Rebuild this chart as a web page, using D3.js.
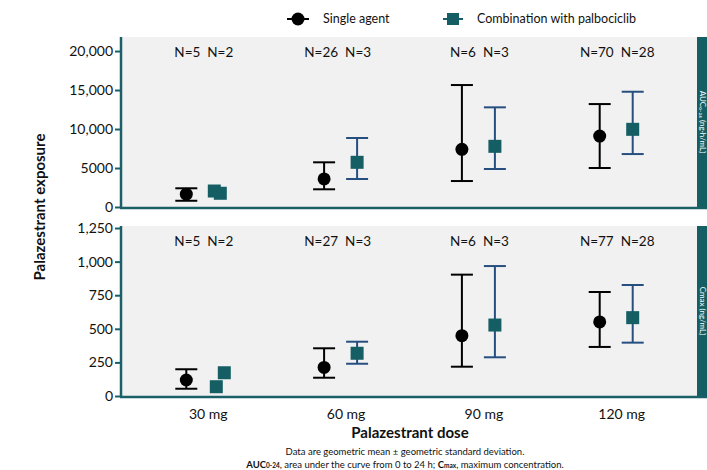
<!DOCTYPE html>
<html><head><meta charset="utf-8">
<script src="https://cdn.jsdelivr.net/npm/d3@7"></script>
<style>body{margin:0;background:#fff;}svg{display:block;font-family:Lato,"Open Sans",sans-serif;}</style>
</head><body><svg id="c" width="707" height="470"></svg>
<script>
const doses = ["30 mg","60 mg","90 mg","120 mg"];
// AUC0-24 panel (top)
const aucSingleMean = [1650, 3600, 7400, 9100];
const aucSingleLow  = [800, 2270, 3330, 5000];
const aucSingleHigh = [2400, 5730, 15640, 13200];
const aucComboMean  = [null, 5730, 7780, 9960];
const aucComboLow   = [null, 3590, 4870, 6790];
const aucComboHigh  = [null, 8850, 12780, 14780];
const aucComboIndiv30 = [2050, 1760];
const aucNSingle = ["N=5","N=26","N=6","N=70"];
const aucNCombo  = ["N=2","N=3","N=3","N=28"];
const aucTicks = [0, 5000, 10000, 15000, 20000];
// Cmax panel (bottom)
const cmaxSingleMean = [119, 213, 449, 551];
const cmaxSingleLow  = [54, 136, 218, 365];
const cmaxSingleHigh = [199, 355, 903, 774];
const cmaxComboMean  = [null, 318, 528, 583];
const cmaxComboLow   = [null, 240, 288, 397];
const cmaxComboHigh  = [null, 404, 967, 826];
const cmaxComboIndiv30 = [69, 173];
const cmaxNSingle = ["N=5","N=27","N=6","N=77"];
const cmaxNCombo  = ["N=2","N=3","N=3","N=28"];
const cmaxTicks = [0, 250, 500, 750, 1000, 1250];

const svg = d3.select("#c");
const teal = "#155e63", blue = "#264f80", axisCol = "#1b6068";
const L = 121, R = 697;
const x = d3.scalePoint().domain(doses).range([L, R]).padding(0.59);
const offS = -16, offC = 17;

function panel(top, bottom, yMax, ticks, fmt, sMean, sLow, sHigh, cMean, cLow, cHigh, indiv, indivOff, nS, nC, stripLabel) {
  const y = d3.scaleLinear().domain([0, yMax]).range([bottom, top]);
  const g = svg.append("g");
  g.append("rect").attr("x", L).attr("y", top).attr("width", R - L).attr("height", bottom - top).attr("fill", "#f1f1f1");
  // strip
  g.append("rect").attr("x", R).attr("y", top).attr("width", 12).attr("height", bottom - top).attr("fill", teal);
  g.append("text").attr("transform", `translate(${R + 2.5},${(top + bottom) / 2}) rotate(90)`)
    .attr("text-anchor", "middle").attr("fill", "#fff").attr("font-size", 8).text(stripLabel);
  // axes
  const ya = g.append("g").attr("transform", `translate(${L},0)`)
    .call(d3.axisLeft(y).tickValues(ticks).tickFormat(fmt).tickSize(6).tickSizeOuter(0));
  ya.select(".domain").remove();
  ya.selectAll(".tick line").attr("stroke", axisCol).attr("stroke-width", 2);
  ya.selectAll(".tick text").attr("font-size", 14).attr("fill", "#111").attr("font-family", "Lato,sans-serif").attr("x", -8);
  g.append("line").attr("x1", L).attr("x2", L).attr("y1", top).attr("y2", bottom + 1).attr("stroke", axisCol).attr("stroke-width", 2.5);
  g.append("line").attr("x1", L - 1).attr("x2", R + 12).attr("y1", bottom + 1).attr("y2", bottom + 1).attr("stroke", axisCol).attr("stroke-width", 2.5);
  // N labels
  doses.forEach((d, i) => {
    g.append("text").attr("x", x(d) - 2).attr("y", top + 20).attr("text-anchor", "end").attr("font-size", 13.5).attr("fill", "#111").text(nS[i]);
    g.append("text").attr("x", x(d) + 5).attr("y", top + 20).attr("text-anchor", "start").attr("font-size", 13.5).attr("fill", "#111").text(nC[i]);
  });
  const cap = 11;
  // single agent
  doses.forEach((d, i) => {
    const cx = x(d) + offS;
    g.append("line").attr("x1", cx).attr("x2", cx).attr("y1", y(sLow[i])).attr("y2", y(sHigh[i])).attr("stroke", "#000").attr("stroke-width", 2);
    [sLow[i], sHigh[i]].forEach(v => g.append("line").attr("x1", cx - cap).attr("x2", cx + cap).attr("y1", y(v)).attr("y2", y(v)).attr("stroke", "#000").attr("stroke-width", 2));
    g.append("circle").attr("cx", cx).attr("cy", y(sMean[i])).attr("r", 6.5).attr("fill", "#000");
  });
  // combination
  doses.forEach((d, i) => {
    const cx = x(d) + offC;
    if (cMean[i] == null) return;
    g.append("line").attr("x1", cx).attr("x2", cx).attr("y1", y(cLow[i])).attr("y2", y(cHigh[i])).attr("stroke", blue).attr("stroke-width", 2);
    [cLow[i], cHigh[i]].forEach(v => g.append("line").attr("x1", cx - cap).attr("x2", cx + cap).attr("y1", y(v)).attr("y2", y(v)).attr("stroke", blue).attr("stroke-width", 2));
    g.append("rect").attr("x", cx - 6.5).attr("y", y(cMean[i]) - 6.5).attr("width", 13).attr("height", 13).attr("fill", teal);
  });
  indiv.forEach((v, k) => {
    const cx = x(doses[0]) + indivOff[k];
    g.append("rect").attr("x", cx - 6.5).attr("y", y(v) - 6.5).attr("width", 13).attr("height", 13).attr("fill", teal);
  });
}

panel(37, 207, 21800, aucTicks, d3.format(",~"), aucSingleMean, aucSingleLow, aucSingleHigh, aucComboMean, aucComboLow, aucComboHigh, aucComboIndiv30, [12, 18], aucNSingle, aucNCombo, "AUC₀₋₂₄ (ng·h/mL)");
panel(226, 396, 1265, cmaxTicks, d3.format(","), cmaxSingleMean, cmaxSingleLow, cmaxSingleHigh, cmaxComboMean, cmaxComboLow, cmaxComboHigh, cmaxComboIndiv30, [14, 22], cmaxNSingle, cmaxNCombo, "Cmax (ng/mL)");
// fix 5000 label (no comma)
svg.selectAll(".tick text").filter(function(){return this.textContent === "5,000";}).text("5000");

// x labels
doses.forEach(d => svg.append("text").attr("x", x(d) + 6).attr("y", 419).attr("text-anchor", "middle").attr("font-size", 14).attr("fill", "#111").text(d));
svg.append("text").attr("x", 410).attr("y", 438).attr("text-anchor", "middle").attr("font-size", 15).attr("font-weight", "bold").attr("fill", "#111").text("Palazestrant dose");
svg.append("text").attr("transform", "translate(45,207) rotate(-90)").attr("text-anchor", "middle").attr("font-size", 15).attr("font-weight", "bold").attr("fill", "#111").text("Palazestrant exposure");

// footnotes
svg.append("text").attr("x", 405).attr("y", 455).attr("text-anchor", "middle").attr("font-size", 9.5).attr("fill", "#111").text("Data are geometric mean ± geometric standard deviation.");
const f2 = svg.append("text").attr("x", 405).attr("y", 468).attr("text-anchor", "middle").attr("font-size", 9.5).attr("fill", "#111");
f2.append("tspan").attr("font-weight", "bold").text("AUC");
f2.append("tspan").attr("font-weight", "bold").attr("font-size", 6.5).text("0-24");
f2.append("tspan").text(", area under the curve from 0 to 24 h; ");
f2.append("tspan").attr("font-weight", "bold").text("C");
f2.append("tspan").attr("font-weight", "bold").attr("font-size", 6.5).text("max");
f2.append("tspan").text(", maximum concentration.");

// legend
const lg = svg.append("g");
lg.append("line").attr("x1", 287).attr("x2", 309).attr("y1", 19).attr("y2", 19).attr("stroke", "#000").attr("stroke-width", 2);
lg.append("circle").attr("cx", 298).attr("cy", 19).attr("r", 6.5).attr("fill", "#000");
lg.append("text").attr("x", 323).attr("y", 23).attr("font-size", 12.5).attr("fill", "#111").text("Single agent");
lg.append("line").attr("x1", 443).attr("x2", 463).attr("y1", 19).attr("y2", 19).attr("stroke", teal).attr("stroke-width", 2);
lg.append("rect").attr("x", 447).attr("y", 13).attr("width", 12).attr("height", 12).attr("fill", teal);
lg.append("text").attr("x", 477).attr("y", 23).attr("font-size", 12.5).attr("fill", "#111").text("Combination with palbociclib");
</script></body></html>
